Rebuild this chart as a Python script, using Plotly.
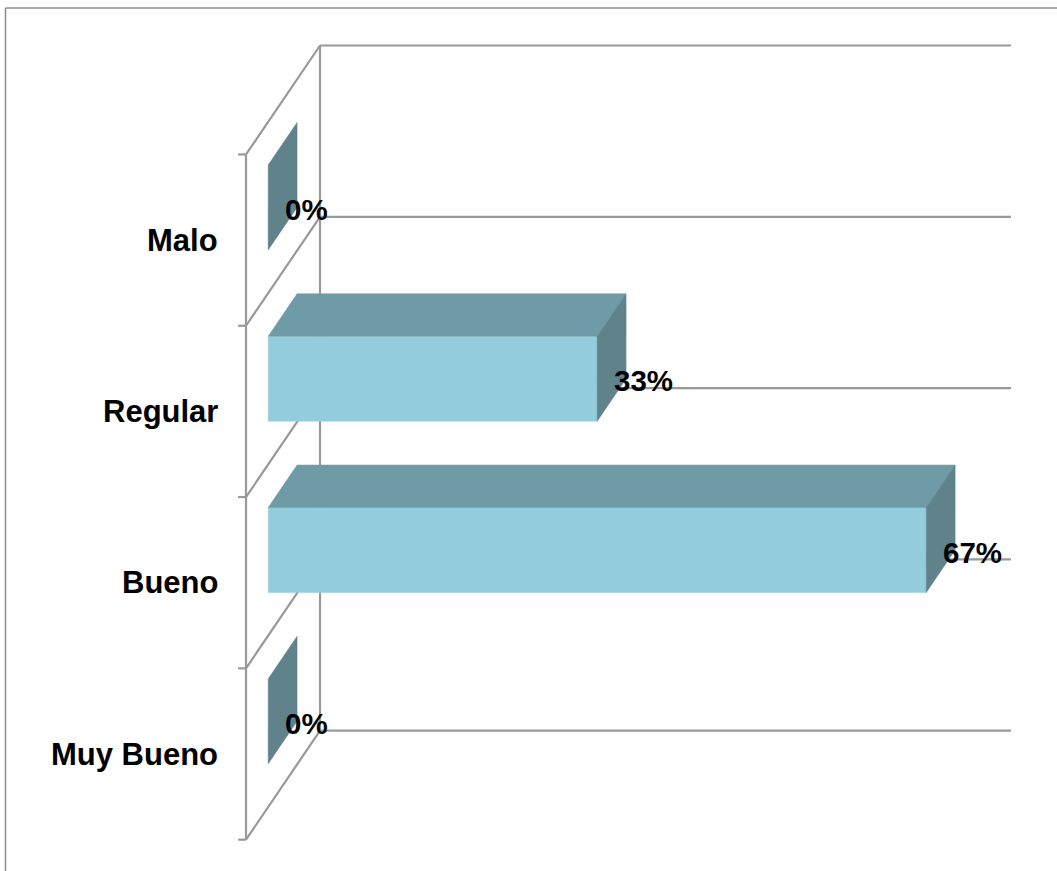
import plotly.graph_objects as go

# Survey results (percent of responses), listed bottom-to-top
categories = ["Muy Bueno", "Bueno", "Regular", "Malo"]
percent = [0, 66.67, 33.33, 0]
value_max = 70

# 3-D projection settings (axis units)
DEPTH_X, DEPTH_Y = 7.5, 0.636      # offset of the back plane from the front plane
BAR_FRONT, BAR_BACK = 0.30, 0.69   # bar depth as a fraction of the full depth
BAR_HALF = 0.248                   # half the bar thickness in category units

FRONT = "#93CDDD"
TOP = "#6F9BA7"
SIDE = "#5F828B"
GRID = "#999999"

fig = go.Figure()


def add_line(xs, ys, color=GRID, width=2.2):
    fig.add_trace(go.Scatter(x=xs, y=ys, mode="lines",
                             line=dict(color=color, width=width),
                             hoverinfo="skip", showlegend=False))


def add_face(xs, ys, color):
    fig.add_trace(go.Scatter(x=xs + [xs[0]], y=ys + [ys[0]], mode="lines",
                             fill="toself", fillcolor=color,
                             line=dict(color=color, width=0.5),
                             hoverinfo="skip", showlegend=False))


n = len(categories)
bounds = [i - 0.5 for i in range(n + 1)]

# walls: front edge, back edge, connecting diagonals, back gridlines, ticks
add_line([0, 0], [bounds[0], bounds[-1]])
add_line([DEPTH_X, DEPTH_X], [bounds[0] + DEPTH_Y, bounds[-1] + DEPTH_Y])
for b in bounds:
    add_line([0, DEPTH_X], [b, b + DEPTH_Y])
    add_line([DEPTH_X, value_max + DEPTH_X], [b + DEPTH_Y, b + DEPTH_Y])
    add_line([-0.8, 0], [b, b])

# 3-D bars
fx, fy = BAR_FRONT * DEPTH_X, BAR_FRONT * DEPTH_Y
bx, by = BAR_BACK * DEPTH_X, BAR_BACK * DEPTH_Y
for i, v in enumerate(percent):
    lo, hi = i - BAR_HALF, i + BAR_HALF
    if v > 0:
        add_face([fx, v + fx, v + fx, fx], [lo + fy, lo + fy, hi + fy, hi + fy], FRONT)
        add_face([fx, v + fx, v + bx, bx], [hi + fy, hi + fy, hi + by, hi + by], TOP)
    add_face([v + fx, v + bx, v + bx, v + fx], [lo + fy, lo + by, hi + by, hi + fy], SIDE)

label_font = dict(family="Liberation Sans, Arial, sans-serif", size=29.5, color="black")
for i, v in enumerate(percent):
    fig.add_annotation(x=v + 0.5 * DEPTH_X, y=i + fy - 0.012, text=f"<b>{v:.0f}%</b>",
                       showarrow=False, xanchor="left", yanchor="middle",
                       font=label_font)

cat_font = dict(family="Liberation Sans, Arial, sans-serif", size=31, color="black")
for i, c in enumerate(categories):
    fig.add_annotation(x=-2.6, y=i, text=f"<b>{c}</b>", showarrow=False,
                       xanchor="right", yanchor="middle", font=cat_font)

# chart-area border (top and left edges)
fig.add_shape(type="line", xref="paper", yref="paper",
              x0=5.5 / 1057, x1=1, y0=1 - 8 / 871, y1=1 - 8 / 871,
              line=dict(color="#8C8C8C", width=1.5))
fig.add_shape(type="line", xref="paper", yref="paper",
              x0=5.5 / 1057, x1=5.5 / 1057, y0=0, y1=1 - 8 / 871,
              line=dict(color="#8C8C8C", width=1.5))

fig.update_layout(
    width=1057, height=871,
    margin=dict(l=0, r=0, t=0, b=0),
    paper_bgcolor="white", plot_bgcolor="white",
    xaxis=dict(range=[-24.924, 82.168], visible=False, fixedrange=True),
    yaxis=dict(range=[-0.683, 4.4016], visible=False, fixedrange=True),
    showlegend=False,
)

fig.write_html("out.html")
